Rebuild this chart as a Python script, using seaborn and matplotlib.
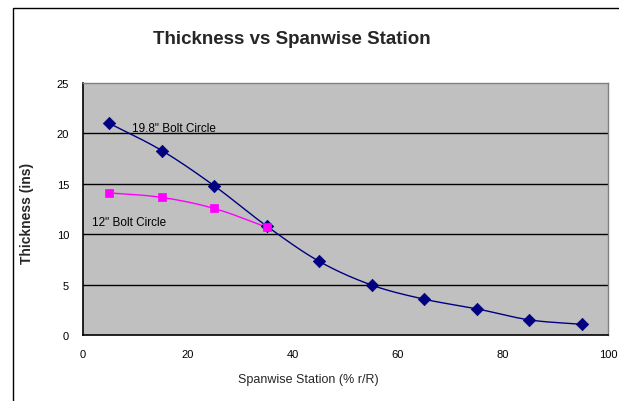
import numpy as np
import pandas as pd
import matplotlib
matplotlib.use("Agg")
import matplotlib.pyplot as plt
import seaborn as sns
from matplotlib.patches import Rectangle

sns.set_theme(style="white")
plt.rcParams["font.family"] = ["Liberation Sans", "DejaVu Sans"]

# Spanwise stations (% r/R) and section thickness (inches)
station_198 = [5, 15, 25, 35, 45, 55, 65, 75, 85, 95]
thick_198 = [21.0, 18.3, 14.8, 10.8, 7.3, 4.95, 3.55, 2.6, 1.5, 1.06]
station_12 = [5, 15, 25, 35]
thick_12 = [14.1, 13.65, 12.55, 10.7]

series_names = ['19.8" Bolt Circle', '12" Bolt Circle']
y_ticks = [0, 5, 10, 15, 20, 25]
x_ticks = [0, 20, 40, 60, 80, 100]

W, H = 619, 402


def smooth_curve(x, y, n=20):
    """Catmull-Rom spline through the points, like a smoothed spreadsheet line."""
    x = np.asarray(x, float)
    y = np.asarray(y, float)
    px = np.concatenate([[2 * x[0] - x[1]], x, [2 * x[-1] - x[-2]]])
    py = np.concatenate([[2 * y[0] - y[1]], y, [2 * y[-1] - y[-2]]])
    xs, ys = [], []
    t = np.linspace(0, 1, n, endpoint=False)
    for i in range(1, len(px) - 2):
        for arr, out in ((px, xs), (py, ys)):
            p0, p1, p2, p3 = arr[i - 1], arr[i], arr[i + 1], arr[i + 2]
            out.extend(0.5 * ((2 * p1) + (-p0 + p2) * t
                              + (2 * p0 - 5 * p1 + 4 * p2 - p3) * t ** 2
                              + (-p0 + 3 * p1 - 3 * p2 + p3) * t ** 3))
    xs.append(x[-1])
    ys.append(y[-1])
    return np.array(xs), np.array(ys)


df_198 = pd.DataFrame({"station": station_198, "thickness": thick_198})
df_12 = pd.DataFrame({"station": station_12, "thickness": thick_12})

fig = plt.figure(figsize=(W / 100, H / 100), dpi=100)
left, right, top, bottom = 83, 608, 84, 336
ax = fig.add_axes([left / W, 1 - bottom / H, (right - left) / W, (bottom - top) / H])
ax.set_facecolor("#C0C0C0")

navy = "#000080"
magenta = "#FF00FF"

for d, c in ((df_198, navy), (df_12, magenta)):
    sx, sy = smooth_curve(d["station"], d["thickness"])
    sns.lineplot(x=sx, y=sy, ax=ax, color=c, lw=1.0, sort=False, zorder=3)

sns.scatterplot(data=df_198, x="station", y="thickness", ax=ax, marker="D",
                s=40, color=navy, edgecolor=navy, zorder=4)
sns.scatterplot(data=df_12, x="station", y="thickness", ax=ax, marker="s",
                s=40, color=magenta, edgecolor=magenta, zorder=5)

ax.set_xlim(0, 100)
ax.set_ylim(0, 25)
ax.set_xticks(x_ticks)
ax.set_yticks(y_ticks)
ax.tick_params(axis="both", labelsize=8, length=4, direction="out",
               colors="black", width=1, pad=6)
for yv in y_ticks[1:-1]:
    ax.axhline(yv, color="black", lw=1.0, zorder=1)

for side in ("top", "right"):
    ax.spines[side].set_color("#808080")
    ax.spines[side].set_linewidth(1.0)
for side in ("left", "bottom"):
    ax.spines[side].set_color("black")
    ax.spines[side].set_linewidth(1.2)

ax.set_xlabel("")
ax.set_ylabel("")
fig.text(308 / W, 1 - 380 / H, "Spanwise Station (% r/R)", fontsize=9,
         ha="center", va="center")
fig.text(27 / W, 1 - 213 / H, "Thickness (ins)", fontsize=10,
         fontweight="bold", rotation=90, ha="center", va="center")

ax.text(9.4, 20.5, series_names[0], fontsize=8.5, va="center", ha="left",
        color="black", zorder=6)
ax.text(1.7, 11.2, series_names[1], fontsize=8.5, va="center", ha="left",
        color="black", zorder=6)

fig.text(292 / W, 1 - 39 / H, "Thickness vs Spanwise Station",
         fontsize=13.5, fontweight="bold", ha="center", va="center")

# Chart frame
fig.patches.append(Rectangle((13 / W, -0.05), 1.0, 1.05 - 9 / H,
                             transform=fig.transFigure, fill=False,
                             edgecolor="black", lw=1.0))

fig.savefig("out.png", dpi=100)
